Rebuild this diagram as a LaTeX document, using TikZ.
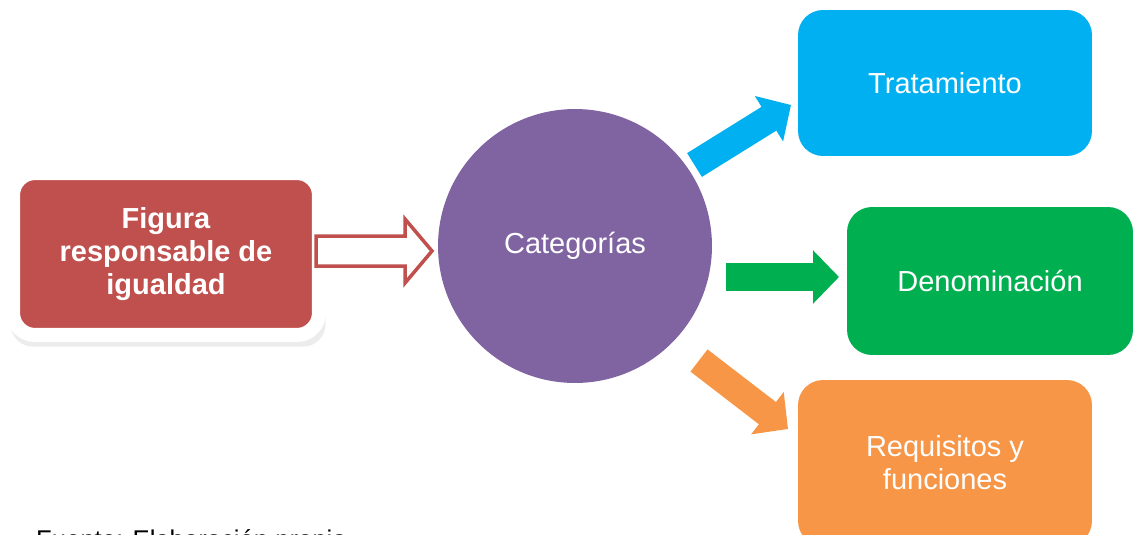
\documentclass[tikz,border=0pt]{standalone}
\usepackage{fontspec}
\setmainfont{Liberation Sans}
\usetikzlibrary{positioning,arrows.meta,shadows,calc}
\definecolor{figred}{HTML}{C0504D}
\definecolor{catpurple}{HTML}{8064A2}
\definecolor{tratblue}{HTML}{00B0F0}
\definecolor{dengreen}{HTML}{00B050}
\definecolor{reqorange}{HTML}{F79646}
\begin{document}
\begin{tikzpicture}[x=0.02cm,y=-0.02cm,
  every node/.style={font=\fontsize{16.5}{18.8}\selectfont,text=white,align=center},
  catbox/.style={rectangle,rounded corners=0.5cm,minimum width=5.88cm,minimum height=2.92cm},
  fatarrow/.style={line width=0.56cm,-{Triangle[length=0.52cm,width=1.04cm]}}]
  \useasboundingbox (0,0) rectangle (1135,534);

  \node[rectangle,rounded corners=0.44cm,fill=figred,draw=white,line width=0.28cm,
        minimum width=6.12cm,minimum height=3.24cm,
        drop shadow={opacity=0.15,shadow xshift=0.04cm,shadow yshift=-0.18cm,shadow scale=1.03}]
        (fig) at (166,254) {\bfseries Figura\\\bfseries responsable de\\\bfseries igualdad};
  \node[circle,fill=catpurple,minimum size=5.48cm,inner sep=0pt] (cat) at (575,246) {Categorías};

  \node[catbox,fill=tratblue] (trat) at (945,83) {Tratamiento};
  \node[catbox,fill=dengreen,minimum width=5.72cm,minimum height=2.96cm] (den) at (990,281) {Denominación};
  \node[catbox,fill=reqorange,minimum height=3.32cm] (req) at (945,463) {Requisitos y\\funciones};

  % hollow arrow
  \coordinate (ht) at (316,251);
  \coordinate (hh) at (432,251);
  \draw[figred,line width=0.07cm,fill=white,line join=miter]
    ($(ht)+(0,-15)$) -- ($(hh)+(-27,-15)$) -- ($(hh)+(-27,-32)$) -- (hh)
    -- ($(hh)+(-27,32)$) -- ($(hh)+(-27,15)$) -- ($(ht)+(0,15)$) -- cycle;

  \coordinate (bt) at (694.5,165);
  \coordinate (bh) at (791,105);
  \coordinate (gt) at (726,277);
  \coordinate (gh) at (839,277);
  \coordinate (ot) at (699,360.5);
  \coordinate (oh) at (788,429);
  \draw[fatarrow,tratblue] (bt) -- (bh);
  \draw[fatarrow,dengreen] (gt) -- (gh);
  \draw[fatarrow,reqorange] (ot) -- (oh);

  \node[anchor=base west,text=black,font=\fontsize{14.6}{17}\selectfont] (fuente) at (30,548) {Fuente: Elaboración propia};
\end{tikzpicture}
\end{document}
